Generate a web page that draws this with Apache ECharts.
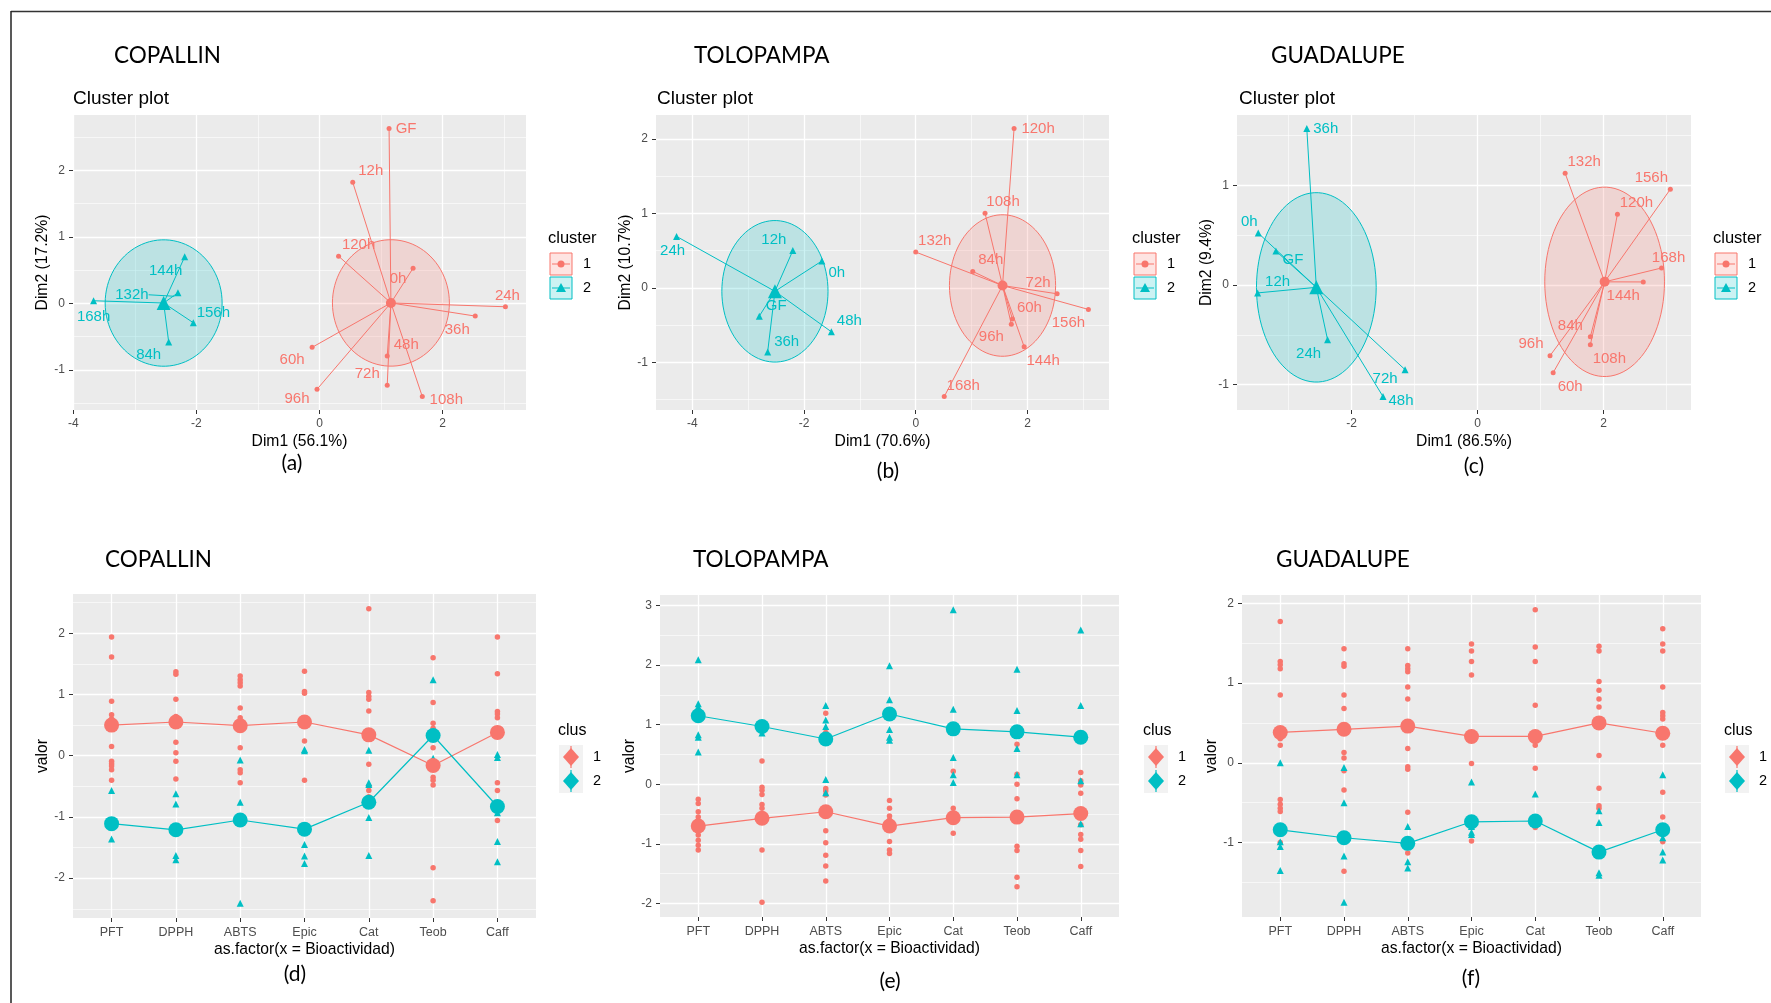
<!DOCTYPE html>
<html>
<head>
<meta charset="utf-8">
<script src="https://cdn.jsdelivr.net/npm/echarts@6/dist/echarts.min.js"></script>
<style>
html,body{margin:0;padding:0;background:#ffffff;}
#main{width:1771px;height:1003px;}
</style>
</head>
<body>
<div id="main"></div>
<script>
// ======================= DATA =======================
const stationNames = ['COPALLIN', 'TOLOPAMPA', 'GUADALUPE'];
const panelTags = ['(a)', '(b)', '(c)', '(d)', '(e)', '(f)'];
const dim1Titles = ['Dim1 (56.1%)', 'Dim1 (70.6%)', 'Dim1 (86.5%)'];
const dim2Titles = ['Dim2 (17.2%)', 'Dim2 (10.7%)', 'Dim2 (9.4%)'];
const ellipseLevel = 0.95;

// (a) COPALLIN cluster plot
const copNames = ['GF','12h','120h','0h','24h','36h','48h','72h','60h','96h','108h','144h','132h','168h','156h','84h'];
const copDim1 = [1.13,0.54,0.31,1.52,3.02,2.53,1.10,1.10,-0.12,-0.04,1.67,-2.19,-2.30,-3.67,-2.05,-2.45];
const copDim2 = [2.63,1.82,0.71,0.53,-0.05,-0.19,-0.79,-1.23,-0.66,-1.29,-1.40,0.70,0.16,0.04,-0.29,-0.58];
const copCluster = [1,1,1,1,1,1,1,1,1,1,1,2,2,2,2,2];
const copXTicks = [-4,-2,0,2];
const copXMinor = [-3,-1,1,3];
const copYTicks = [-1,0,1,2];
const copYMinor = [-1.5,-0.5,0.5,1.5,2.5];

// (b) TOLOPAMPA cluster plot
const tolNames = ['120h','108h','132h','84h','72h','156h','60h','96h','144h','168h','24h','12h','0h','GF','48h','36h'];
const tolDim1 = [1.76,1.24,0.00,1.02,2.53,3.09,1.73,1.71,1.94,0.51,-4.28,-2.20,-1.68,-2.80,-1.51,-2.65];
const tolDim2 = [2.14,1.00,0.48,0.22,-0.08,-0.29,-0.42,-0.49,-0.79,-1.46,0.69,0.50,0.36,-0.38,-0.59,-0.86];
const tolCluster = [1,1,1,1,1,1,1,1,1,1,2,2,2,2,2,2];
const tolXTicks = [-4,-2,0,2];
const tolXMinor = [-3,-1,1,3];
const tolYTicks = [-1,0,1,2];
const tolYMinor = [-1.5,-0.5,0.5,1.5];

// (c) GUADALUPE cluster plot
const guaNames = ['132h','156h','120h','168h','144h','84h','108h','96h','60h','36h','0h','GF','12h','24h','72h','48h'];
const guaDim1 = [1.39,3.06,2.22,2.92,2.63,1.79,1.79,1.15,1.20,-2.71,-3.48,-3.20,-3.49,-2.38,-1.15,-1.50];
const guaDim2 = [1.12,0.96,0.71,0.17,0.03,-0.52,-0.60,-0.71,-0.88,1.57,0.52,0.34,-0.08,-0.55,-0.85,-1.12];
const guaCluster = [1,1,1,1,1,1,1,1,1,2,2,2,2,2,2,2];
const guaXTicks = [-2,0,2];
const guaXMinor = [-3,-1,1,3];
const guaYTicks = [-1,0,1];
const guaYMinor = [-0.5,0.5,1.5];

// Bioactivity profiles
const bioCategories = ['PFT','DPPH','ABTS','Epic','Cat','Teob','Caff'];

// (d) COPALLIN
const copValClus1 = [
  [1.94,1.61,0.89,0.67,0.60,0.15,-0.09,-0.13,-0.17,-0.23,-0.40],
  [1.37,1.33,0.92,0.64,0.58,0.50,0.22,0.05,-0.09,-0.38],
  [1.30,1.24,1.19,1.14,0.78,0.62,0.13,-0.23,-0.28,-0.44],
  [1.38,1.05,1.02,0.62,0.24,-0.40],
  [2.40,1.03,0.97,0.92,0.73,-0.14,-0.50,-0.57,-0.67],
  [1.60,0.87,0.53,0.45,0.13,-0.35,-0.40,-0.48,-1.83,-2.37],
  [1.94,1.34,0.72,0.68,0.62,-0.44,-0.57,-1.06]
];
const copValClus2 = [
  [-0.57,-1.36,-1.15],
  [-0.62,-0.79,-1.63,-1.70],
  [-0.07,-0.76,-2.41],
  [0.08,0.10,-1.45,-1.64,-1.76],
  [0.09,-0.44,-0.47,-1.01,-1.63],
  [1.24,-0.04,-0.08],
  [0.02,-0.03,-0.93,-1.40,-1.73]
];
const copMeanClus1 = [0.50,0.55,0.49,0.55,0.34,-0.16,0.38];
const copMeanClus2 = [-1.11,-1.21,-1.05,-1.20,-0.76,0.33,-0.83];
const copValTicks = [-2,-1,0,1,2];
const copValMinor = [-2.5,-1.5,-0.5,0.5,1.5,2.5];

// (e) TOLOPAMPA
const tolValClus1 = [
  [-0.25,-0.32,-0.46,-0.55,-0.85,-0.94,-1.02,-1.10],
  [0.39,-0.05,-0.10,-0.17,-0.34,-0.40,-0.50,-1.10,-1.98],
  [1.19,0.87,-0.07,-0.11,-0.18,-0.78,-0.98,-1.19,-1.37,-1.62],
  [-0.27,-0.40,-0.53,-0.60,-0.96,-1.10,-1.16],
  [0.22,-0.40,-0.48,-0.82],
  [0.67,0.17,0.00,-0.24,-1.04,-1.11,-1.56,-1.72],
  [0.20,0.06,-0.01,-0.15,-0.68,-0.84,-0.92,-1.11,-1.38]
];
const tolValClus2 = [
  [2.09,1.35,1.30,0.83,0.79,0.54],
  [1.00,0.86],
  [1.32,1.08,0.97,0.08,-0.14],
  [1.99,1.42,0.92,0.79,0.74],
  [2.93,1.26,0.45,0.16,0.03],
  [1.93,1.24,0.60,0.16],
  [2.59,1.32,0.06,-0.66]
];
const tolMeanClus1 = [-0.70,-0.57,-0.46,-0.70,-0.56,-0.55,-0.49];
const tolMeanClus2 = [1.15,0.97,0.76,1.18,0.93,0.88,0.79];
const tolValTicks = [-2,-1,0,1,2,3];
const tolValMinor = [-1.5,-0.5,0.5,1.5,2.5];

// (f) GUADALUPE
const guaValClus1 = [
  [1.77,1.27,1.23,1.18,0.85,0.30,0.22,-0.46,-0.52,-0.57,-0.61,-1.00],
  [1.43,1.24,1.21,0.85,0.68,0.13,0.06,-0.10,-0.34,-1.36],
  [1.43,1.22,1.18,1.14,0.95,0.80,0.18,-0.05,-0.08,-0.62,-1.13],
  [1.49,1.40,1.27,1.10,-0.01,-0.98],
  [1.92,1.45,1.27,0.72,0.22,-0.07,-0.81],
  [1.46,1.40,1.02,0.91,0.80,0.70,0.09,-0.32,-0.54,-0.57],
  [1.68,1.49,1.40,0.95,0.63,0.59,0.55,0.22,-0.37,-0.68,-0.99]
];
const guaValClus2 = [
  [0.00,-0.99,-1.05,-1.35],
  [-0.06,-0.50,-1.17,-1.75],
  [-0.80,-1.24,-1.32],
  [-0.24,-0.80,-0.87,-0.90],
  [-0.39],
  [-0.60,-0.75,-1.38,-1.41],
  [-0.15,-0.94,-1.12,-1.22]
];
const guaMeanClus1 = [0.38,0.42,0.46,0.33,0.33,0.50,0.37];
const guaMeanClus2 = [-0.84,-0.94,-1.01,-0.74,-0.73,-1.12,-0.84];
const guaValTicks = [-1,0,1,2];
const guaValMinor = [-1.5,-0.5,0.5,1.5];

// ======================= STYLE / LAYOUT =======================
const RED = '#F8766D', CYAN = '#00BFC4';
const RED_A = 'rgba(248,118,109,0.2)', CYAN_A = 'rgba(0,191,196,0.2)';
const FONT = '"Liberation Sans", Arial, sans-serif';
const TFONT = 'Lato, "Open Sans", sans-serif';
const colOf = k => (k === 1 ? RED : CYAN);
const fillOf = k => (k === 1 ? RED_A : CYAN_A);

// label offsets (px, relative to point) for the repelled text labels
const copLabelOff = [[17,0],[18,-11],[20,-11],[-15,11],[2,-11],[-18,14],[19,-11],[-20,-11],[-20,13],[-20,10],[24,3],[-19,14],[-46,2],[0,16],[20,-10],[-20,13]];
const tolLabelOff = [[24,0],[18,-11],[19,-11],[18,-12],[-19,-11],[-20,13],[17,-11],[-20,13],[19,14],[19,-11],[-4,14],[-19,-11],[15,12],[17,-10],[18,-11],[19,-10]];
const guaLabelOff = [[19,-11],[-19,-11],[19,-11],[7,-10],[-20,14],[-20,-11],[19,14],[-19,-12],[17,14],[19,0],[-9,-11],[17,9],[20,-11],[-19,14],[-20,9],[18,4]];
// labels drawn with a repel segment back to their point
const copRepelSeg = ['132h'], tolRepelSeg = [], guaRepelSeg = [];

const gridsPx = [
  {left:73, top:115, width:453, height:295},
  {left:656, top:115, width:453, height:295},
  {left:1237, top:115, width:454, height:295},
  {left:73, top:594, width:463, height:324},
  {left:660, top:595, width:459, height:322},
  {left:1242, top:595, width:459, height:322}
];

function expand(vals){
  const lo = Math.min(...vals), hi = Math.max(...vals), r = hi - lo;
  return [lo - 0.05*r, hi + 0.05*r];
}

const grid = [], xAxis = [], yAxis = [], series = [];

function majorAxis(gi, min, max, ticks, fmt, name, isY, nameGap, labelSize){
  return {
    type:'value', gridIndex:gi, min:min, max:max,
    position: isY ? 'left' : 'bottom',
    name:name, nameLocation:'middle', nameGap:nameGap,
    nameTextStyle:{color:'#000', fontSize:15.7, fontFamily:FONT},
    axisLine:{show:false, onZero:false},
    axisTick:{show:true, length:4, customValues:ticks, lineStyle:{color:'#333', width:1}},
    axisLabel:{show:true, customValues:ticks, color:'#4D4D4D', fontSize:labelSize || 12, fontFamily:FONT, margin:8, formatter: fmt},
    splitLine:{show:true, lineStyle:{color:'#ffffff', width:1.3}}
  };
}
function minorAxis(gi, min, max, ticks, isY){
  return {
    type:'value', gridIndex:gi, min:min, max:max,
    position: isY ? 'right' : 'top',
    axisLine:{show:false, onZero:false},
    axisTick:{show:false, customValues:ticks},
    axisLabel:{show:false, customValues:ticks},
    splitLine:{show: ticks.length > 0, lineStyle:{color:'#ffffff', width:0.6}}
  };
}

// ---------- cluster plots ----------
function clusterPanel(p, names, d1, d2, cl, off, seg, xT, xM, yT, yM){
  const g = gridsPx[p];
  grid.push(Object.assign({show:true, backgroundColor:'#EBEBEB', borderWidth:0, outerBoundsMode:'none', containLabel:false}, g));
  const xr = expand(d1), yr = expand(d2);
  const fmt = v => String(v);
  xAxis.push(majorAxis(p, xr[0], xr[1], xT, fmt, dim1Titles[p], false, 24));
  xAxis.push(minorAxis(p, xr[0], xr[1], xM, false));
  yAxis.push(majorAxis(p, yr[0], yr[1], yT, fmt, dim2Titles[p], true, 21));
  yAxis.push(minorAxis(p, yr[0], yr[1], yM, true));
  const xi = 2*p, yi = 2*p;
  // centroids of each cluster
  const cents = [1,2].map(k => {
    let sx=0, sy=0, n=0;
    d1.forEach((v,i)=>{ if(cl[i]===k){ sx+=v; sy+=d2[i]; n++; } });
    return [sx/n, sy/n, k];
  });
  // euclidean ellipses (radius = ellipse level)
  series.push({
    type:'custom', xAxisIndex:xi, yAxisIndex:yi, silent:true, z:1,
    data: cents,
    renderItem(params, api){
      const cx = api.value(0), cy = api.value(1), k = api.value(2);
      const pts = [];
      for(let i=0;i<=90;i++){ const t = i/90*Math.PI*2; pts.push(api.coord([cx + ellipseLevel*Math.cos(t), cy + ellipseLevel*Math.sin(t)])); }
      return {type:'polygon', shape:{points:pts}, style:{fill:fillOf(k), stroke:colOf(k), lineWidth:1}};
    }
  });
  // segments centroid -> point
  series.push({
    type:'custom', xAxisIndex:xi, yAxisIndex:yi, silent:true, z:2,
    data: d1.map((v,i)=>{ const c = cents[cl[i]-1]; return [v, d2[i], c[0], c[1], cl[i]]; }),
    renderItem(params, api){
      const a = api.coord([api.value(2), api.value(3)]), b = api.coord([api.value(0), api.value(1)]);
      return {type:'line', shape:{x1:a[0], y1:a[1], x2:b[0], y2:b[1]}, style:{stroke:colOf(api.value(4)), lineWidth:1}};
    }
  });
  // points
  [1,2].forEach(k=>{
    const data = [], offs = [];
    d1.forEach((v,i)=>{
      if(cl[i]!==k) return;
      const item = {name:names[i], value:[v,d2[i]]};
      if(seg.indexOf(names[i]) >= 0) item.labelLine = {show:true, showAbove:false, lineStyle:{color:colOf(k), width:1}};
      data.push(item); offs.push(off[i]);
    });
    series.push({
      type:'scatter', xAxisIndex:xi, yAxisIndex:yi, z:3,
      symbol: k===1 ? 'circle' : 'triangle', symbolSize: k===1 ? 5 : 7,
      itemStyle:{color:colOf(k), opacity:1},
      label:{show:true, position:'inside', formatter:'{b}', color:colOf(k), fontSize:15, fontFamily:FONT},
      labelLine:{show:false},
      labelLayout: params => ({dx: offs[params.dataIndex][0], dy: offs[params.dataIndex][1]}),
      emphasis:{disabled:true},
      data:data
    });
    // centroid marker
    series.push({
      type:'scatter', xAxisIndex:xi, yAxisIndex:yi, z:4,
      symbol: k===1 ? 'circle' : 'triangle', symbolSize: k===1 ? 10 : 14,
      itemStyle:{color:colOf(k), opacity:1}, emphasis:{disabled:true},
      data:[[cents[k-1][0], cents[k-1][1]]]
    });
  });
}

clusterPanel(0, copNames, copDim1, copDim2, copCluster, copLabelOff, copRepelSeg, copXTicks, copXMinor, copYTicks, copYMinor);
clusterPanel(1, tolNames, tolDim1, tolDim2, tolCluster, tolLabelOff, tolRepelSeg, tolXTicks, tolXMinor, tolYTicks, tolYMinor);
clusterPanel(2, guaNames, guaDim1, guaDim2, guaCluster, guaLabelOff, guaRepelSeg, guaXTicks, guaXMinor, guaYTicks, guaYMinor);

// ---------- bioactivity profiles ----------
function profilePanel(p, v1, v2, m1, m2, yT, yM){
  const g = gridsPx[p];
  grid.push(Object.assign({show:true, backgroundColor:'#EBEBEB', borderWidth:0, outerBoundsMode:'none', containLabel:false}, g));
  const all = [].concat(...v1, ...v2, m1, m2);
  const yr = expand(all);
  const catIdx = bioCategories.map((c,i)=>i);
  xAxis.push(majorAxis(p, -0.6, bioCategories.length - 0.4, catIdx, v => bioCategories[Math.round(v)], 'as.factor(x = Bioactividad)', false, 24, 12.5));
  xAxis.push(minorAxis(p, -0.6, bioCategories.length - 0.4, [], false));
  yAxis.push(majorAxis(p, yr[0], yr[1], yT, v => String(v), 'valor', true, 21));
  yAxis.push(minorAxis(p, yr[0], yr[1], yM, true));
  const xi = 2*p, yi = 2*p;
  const pts = (vals) => { const out=[]; vals.forEach((arr,i)=>arr.forEach(v=>out.push([i,v]))); return out; };
  series.push({type:'scatter', xAxisIndex:xi, yAxisIndex:yi, z:3, symbol:'circle', symbolSize:5.5,
    itemStyle:{color:RED, opacity:1}, emphasis:{disabled:true}, data:pts(v1)});
  series.push({type:'scatter', xAxisIndex:xi, yAxisIndex:yi, z:3, symbol:'triangle', symbolSize:7,
    itemStyle:{color:CYAN, opacity:1}, emphasis:{disabled:true}, data:pts(v2)});
  [[m1,RED],[m2,CYAN]].forEach(([m,c])=>{
    series.push({type:'line', xAxisIndex:xi, yAxisIndex:yi, z:4, symbol:'circle', symbolSize:15, showSymbol:true,
      lineStyle:{color:c, width:1.2}, itemStyle:{color:c, opacity:1}, emphasis:{disabled:true},
      data: m.map((v,i)=>[i,v])});
  });
}
profilePanel(3, copValClus1, copValClus2, copMeanClus1, copMeanClus2, copValTicks, copValMinor);
profilePanel(4, tolValClus1, tolValClus2, tolMeanClus1, tolMeanClus2, tolValTicks, tolValMinor);
profilePanel(5, guaValClus1, guaValClus2, guaMeanClus1, guaMeanClus2, guaValTicks, guaValMinor);

// ---------- texts & legends (graphic) ----------
const graphic = [];
function text(x, y, t, font, align, color){
  graphic.push({type:'text', silent:true, style:{x:x, y:y, text:t, font:font, fill:color||'#000', align:align||'left', verticalAlign:'middle'}});
}
// frame
graphic.push({type:'line', silent:true, shape:{x1:11, y1:11.5, x2:1771, y2:11.5}, style:{stroke:'#333', lineWidth:1.5}});
graphic.push({type:'line', silent:true, shape:{x1:11, y1:11, x2:11, y2:1003}, style:{stroke:'#222', lineWidth:1.5}});

// station titles
const topTitleX = [114, 694, 1271], botTitleX = [105, 693, 1276];
stationNames.forEach((s,i)=>{
  text(topTitleX[i], 56, s, '22.5px ' + TFONT);
  text(botTitleX[i], 560, s, '22.5px ' + TFONT);
});
// "Cluster plot"
[73, 657, 1239].forEach(x => text(x, 99, 'Cluster plot', '19px ' + FONT));
// panel tags
const tagPos = [[292,463],[888,471],[1474,466],[295,974],[890,981],[1471,978]];
panelTags.forEach((t,i)=> text(tagPos[i][0], tagPos[i][1], t, '21px ' + TFONT, 'center'));

// cluster legends
[548, 1132, 1713].forEach(x0=>{
  text(x0, 238, 'cluster', '16.5px ' + FONT);
  [1,2].forEach((k,j)=>{
    const kx = x0 + 2, ky = 253 + j*24, cx = kx + 11, cy = ky + 11;
    graphic.push({type:'rect', silent:true, shape:{x:kx, y:ky, width:22, height:22}, style:{fill:fillOf(k), stroke:colOf(k), lineWidth:1}});
    graphic.push({type:'line', silent:true, shape:{x1:kx+2, y1:cy, x2:kx+20, y2:cy}, style:{stroke:colOf(k), lineWidth:1}});
    if(k===1) graphic.push({type:'circle', silent:true, shape:{cx:cx, cy:cy, r:3.5}, style:{fill:colOf(k)}});
    else graphic.push({type:'polygon', silent:true, shape:{points:[[cx,cy-5],[cx+5,cy+4],[cx-5,cy+4]]}, style:{fill:colOf(k)}});
    text(kx + 33, cy, String(k), '14.5px ' + FONT);
  });
});
// clus legends
[558, 1143, 1724].forEach(x0=>{
  text(x0, 731, 'clus', '16px ' + FONT);
  [1,2].forEach((k,j)=>{
    const kx = x0 + 1, ky = 745 + j*24, cx = kx + 12, cy = ky + 12;
    graphic.push({type:'rect', silent:true, shape:{x:kx, y:ky, width:24, height:24}, style:{fill:'#F2F2F2'}});
    graphic.push({type:'line', silent:true, shape:{x1:cx, y1:ky+1, x2:cx, y2:ky+23}, style:{stroke:colOf(k), lineWidth:1.2}});
    graphic.push({type:'polygon', silent:true, shape:{points:[[cx,cy-9],[cx+8,cy],[cx,cy+9],[cx-8,cy]]}, style:{fill:colOf(k)}});
    text(kx + 34, cy, String(k), '14.5px ' + FONT);
  });
});

const chart = echarts.init(document.getElementById('main'), null, {renderer:'canvas', width:1771, height:1003});
chart.setOption({
  backgroundColor:'#ffffff',
  animation:false,
  grid:grid, xAxis:xAxis, yAxis:yAxis, series:series, graphic:graphic
});
</script>
</body>
</html>
